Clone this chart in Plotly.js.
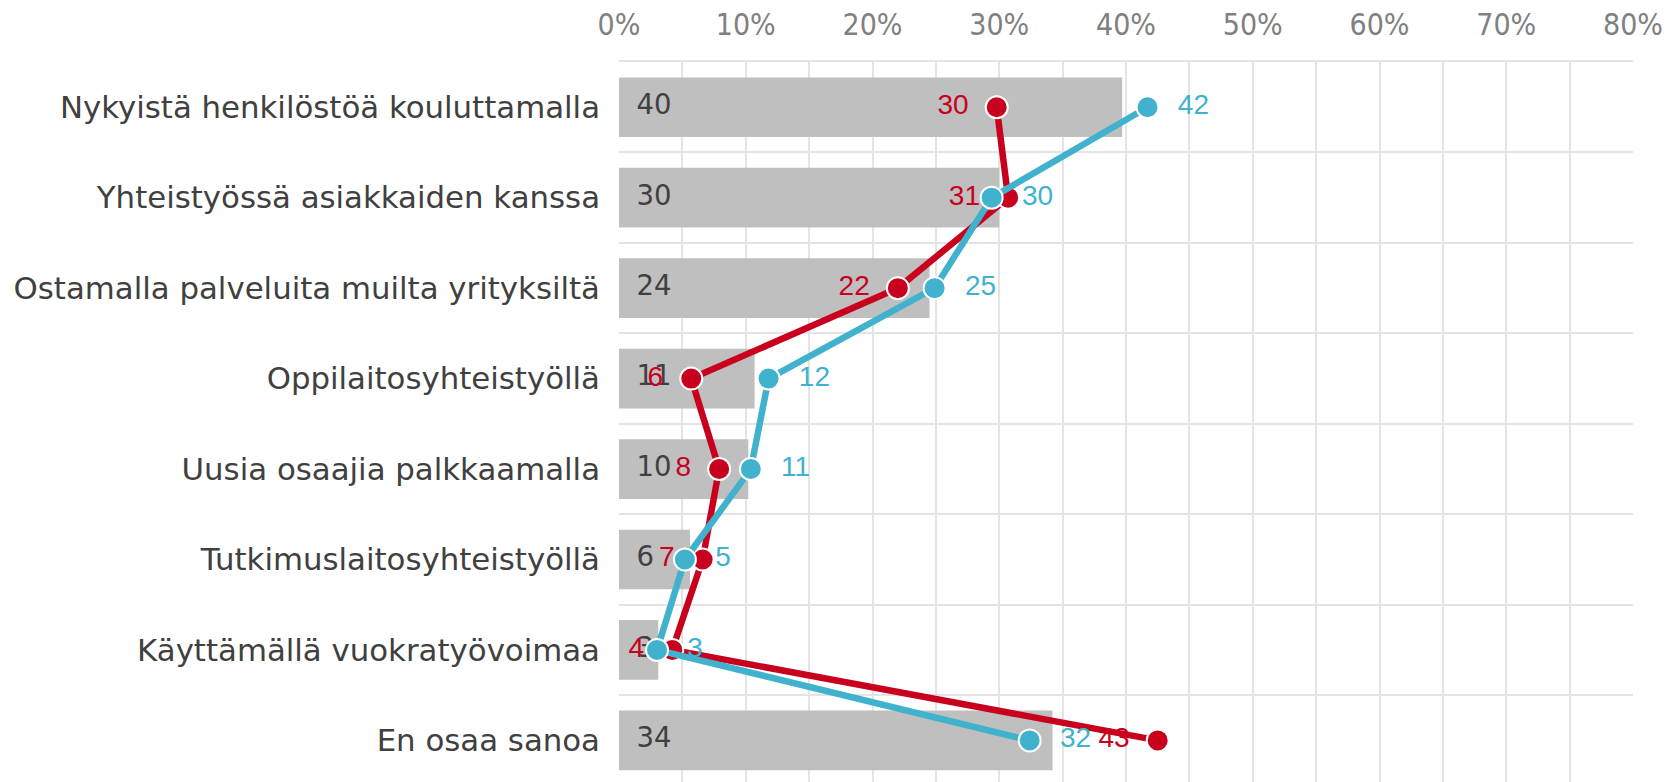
<!DOCTYPE html>
<html>
<head>
<meta charset="utf-8">
<script src="https://cdn.plot.ly/plotly-3.0.1.min.js"></script>
<style>
  html, body { margin: 0; padding: 0; background: #fff; }
  #chart { width: 1670px; height: 782px; }
</style>
</head>
<body>
<div id="chart"></div>
<script>
// ── Data ──────────────────────────────────────────────────────────────────────
const categories = [
  "Nykyistä henkilöstöä kouluttamalla",
  "Yhteistyössä asiakkaiden kanssa",
  "Ostamalla palveluita muilta yrityksiltä",
  "Oppilaitosyhteistyöllä",
  "Uusia osaajia palkkaamalla",
  "Tutkimuslaitosyhteistyöllä",
  "Käyttämällä vuokratyövoimaa",
  "En osaa sanoa",
];

const barValues = [39.7, 30.0, 24.5, 10.7, 10.2, 5.6, 3.1, 34.2];
const barLabels = [40, 30, 24, 11, 10, 6, 3, 34];

const redValues = [29.8, 30.7, 22.0, 5.7, 7.9, 6.6, 4.2, 42.5];
const redLabels = [30, 31, 22, 6, 8, 7, 4, 43];

const blueValues = [41.7, 29.4, 24.9, 11.8, 10.4, 5.2, 3.0, 32.4];
const blueLabels = [42, 30, 25, 12, 11, 5, 3, 32];

const xTicks = [0, 10, 20, 30, 40, 50, 60, 70, 80];

// ── Style ─────────────────────────────────────────────────────────────────────
const RED = "#C8001E";
const BLUE = "#41B2CD";
const BAR = "#BFBFBF";
const GRID = "#E4E4E4";
const NB = "\u00a0";
const THIN = "\u2009";

const rows = categories.map((_, i) => i);

const traces = [
  {
    type: "bar",
    orientation: "h",
    x: barValues,
    y: rows,
    width: 0.66,
    marker: { color: BAR },
    hoverinfo: "skip",
  },
  // bar value labels at the base of each bar
  {
    type: "scatter",
    mode: "text",
    x: rows.map(() => 0),
    y: rows,
    text: barLabels.map(v => NB + NB + v),
    textposition: "middle right",
    textfont: { family: "DejaVu Sans, Verdana, sans-serif", size: 27.5, color: "#404040" },
    hoverinfo: "skip",
  },
  {
    type: "scatter",
    mode: "lines+markers+text",
    x: redValues,
    y: rows,
    text: redLabels.map(v => v + NB + THIN),
    textposition: "middle left",
    textfont: { family: "Liberation Sans, Arial, sans-serif", size: 28, color: RED },
    line: { color: RED, width: 6.5 },
    marker: { color: RED, size: 22, line: { color: "#fff", width: 2 } },
    hoverinfo: "skip",
  },
  {
    type: "scatter",
    mode: "lines+markers+text",
    x: blueValues,
    y: rows,
    text: blueLabels.map(v => NB + NB + v),
    textposition: "middle right",
    textfont: { family: "Liberation Sans, Arial, sans-serif", size: 28, color: BLUE },
    line: { color: BLUE, width: 6.5 },
    marker: { color: BLUE, size: 22, line: { color: "#fff", width: 2 } },
    hoverinfo: "skip",
  },
];

const layout = {
  width: 1670,
  height: 782,
  paper_bgcolor: "#fff",
  plot_bgcolor: "#fff",
  showlegend: false,
  hovermode: false,
  margin: { l: 619, r: 37, t: 62, b: 0, pad: 0 },
  xaxis: {
    side: "top",
    range: [0, 80],
    tickvals: xTicks,
    ticktext: xTicks.map(v => v + "%"),
    ticks: "",
    ticklabelstandoff: 13,
    tickfont: { family: "DejaVu Sans Condensed, DejaVu Sans, sans-serif", size: 30, color: "#808080" },
    showgrid: true,
    gridcolor: GRID,
    gridwidth: 2,
    minor: { tick0: 5, dtick: 10, showgrid: true, gridcolor: GRID, gridwidth: 2 },
    zeroline: false,
    showline: true,
    linecolor: GRID,
    linewidth: 2,
    fixedrange: true,
  },
  yaxis: {
    range: [7.46, -0.5],
    tickvals: rows,
    ticktext: categories,
    ticks: "",
    ticklabelstandoff: 18,
    tickfont: { family: "DejaVu Sans, Verdana, sans-serif", size: 30.8, color: "#404040" },
    showgrid: false,
    minor: { tick0: 0.5, dtick: 1, showgrid: true, gridcolor: GRID, gridwidth: 2 },
    zeroline: false,
    showline: false,
    fixedrange: true,
  },
};

Plotly.newPlot("chart", traces, layout, { displayModeBar: false, staticPlot: true });
</script>
</body>
</html>
